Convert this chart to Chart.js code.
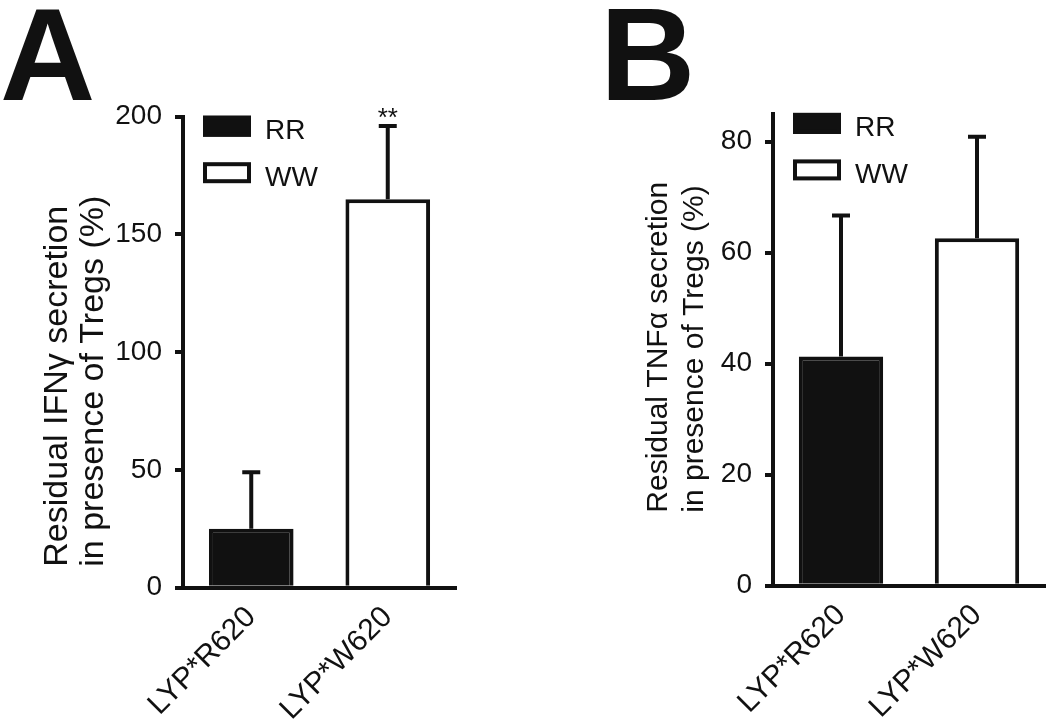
<!DOCTYPE html>
<html>
<head>
<meta charset="utf-8">
<script src="https://cdn.jsdelivr.net/npm/chart.js@4.4.1/dist/chart.umd.min.js"></script>
<style>
    html, body { margin: 0; padding: 0; background: #fff; }
    body { width: 1050px; height: 719px; position: relative; overflow: hidden; }
    canvas { position: absolute; top: 0; }
    #chartA { left: 0; }
    #chartB { left: 525px; }
</style>
</head>
<body>
<canvas id="chartA" width="525" height="719"></canvas>
<canvas id="chartB" width="525" height="719"></canvas>
<script>
const categories  = ['LYP*R620', 'LYP*W620'];
const seriesNames = ['RR', 'WW'];
const seriesFill  = ['#111111', '#ffffff'];

// panel A - IFNγ
const ifngMean  = [25, 165];
const ifngErr   = [24, 31];
const ifngStars = ['', '**'];
const ifngTicks = [0, 50, 100, 150, 200];
const ifngTitle = ['Residual IFNγ secretion', 'in presence of Tregs (%)'];

// panel B - TNFα
const tnfMean  = [41.3, 62.6];
const tnfErr   = [25.4, 18.3];
const tnfStars = ['', ''];
const tnfTicks = [0, 20, 40, 60, 80];
const tnfTitle = ['Residual TNFα secretion', 'in presence of Tregs (%)'];

const INK  = '#111';
const TEXT = '#111';
const FONT = "'Liberation Sans', Arial, Helvetica, sans-serif";

const errorBars = {
    id: 'errorBars',
    afterDatasetsDraw(chart) {
        const { ctx, scales: { y } } = chart;
        ctx.save();
        ctx.strokeStyle = INK;
        ctx.lineWidth = 4;
        chart.data.datasets.forEach((ds, i) => {
            chart.getDatasetMeta(i).data.forEach((bar, j) => {
                if (ds.data[j] == null) return;
                const base = y.getPixelForValue(ds.data[j]);
                const top  = y.getPixelForValue(ds.data[j] + ds.errors[j]);
                ctx.beginPath();
                ctx.moveTo(bar.x, base); ctx.lineTo(bar.x, top);
                ctx.moveTo(bar.x - 9, top); ctx.lineTo(bar.x + 9, top);
                ctx.stroke();
                if (ds.stars[j]) {
                    ctx.fillStyle = TEXT;
                    ctx.font = `26px ${FONT}`;
                    ctx.textAlign = 'center';
                    ctx.textBaseline = 'alphabetic';
                    ctx.fillText(ds.stars[j], bar.x, top);
                }
            });
        });
        ctx.restore();
    }
};

const boxLegend = {
    id: 'boxLegend',
    afterDraw(chart) {
        const { ctx, chartArea } = chart;
        const x0 = chartArea.left + 20, y0 = chartArea.top - 1;
        ctx.save();
        chart.data.datasets.forEach((ds, i) => {
            const y = y0 + i * 46.5;
            ctx.fillStyle = ds.backgroundColor;
            ctx.fillRect(x0, y, 48, 21);
            ctx.strokeStyle = ds.borderColor;
            ctx.lineWidth = 4;
            ctx.strokeRect(x0 + 2, y + 2, 44, 17);
            ctx.fillStyle = TEXT;
            ctx.font = `28px ${FONT}`;
            ctx.textAlign = 'left';
            ctx.textBaseline = 'alphabetic';
            ctx.fillText(ds.label, x0 + 62, y + 23.5);
        });
        ctx.restore();
    }
};

const sideTitle = {
    id: 'sideTitle',
    afterDraw(chart, args, o) {
        const { ctx, chartArea } = chart;
        ctx.save();
        ctx.fillStyle = TEXT;
        ctx.font = `${o.size}px ${FONT}`;
        ctx.textAlign = 'left';
        ctx.textBaseline = 'alphabetic';
        o.lines.forEach((line, i) => {
            ctx.save();
            ctx.translate(chartArea.left - o.offsets[i], chartArea.bottom - o.bottom);
            ctx.rotate(-Math.PI / 2);
            ctx.fillText(line, 0, 0);
            ctx.restore();
        });
        ctx.restore();
    }
};

const panelLetter = {
    id: 'panelLetter',
    afterDraw(chart, args, o) {
        const { ctx } = chart;
        ctx.save();
        ctx.fillStyle = INK;
        ctx.font = `bold 132px ${FONT}`;
        ctx.textAlign = 'left';
        ctx.textBaseline = 'alphabetic';
        ctx.fillText(o.text, o.x, o.y);
        ctx.restore();
    }
};

function makePanel(id, letter, mean, err, stars, ticks, title, L) {
    const datasets = seriesNames.map((name, i) => ({
        label: name,
        data: categories.map((c, j) => j === i ? mean[j] : null),
        errors: err,
        stars: stars,
        backgroundColor: seriesFill[i],
        borderColor: INK,
        borderWidth: 4
    }));

    return new Chart(document.getElementById(id), {
        type: 'bar',
        data: { labels: categories, datasets },
        plugins: [errorBars, boxLegend, sideTitle, panelLetter],
        options: {
            responsive: false,
            animation: false,
            layout: { padding: { left: 0, top: L.top, right: L.right, bottom: 0 } },
            datasets: { bar: { skipNull: true, categoryPercentage: 1, barPercentage: 0.62 } },
            plugins: {
                legend: { display: false },
                tooltip: { enabled: false },
                sideTitle: { lines: title, size: L.titleSize, offsets: L.titleOffsets, bottom: L.titleBottom },
                panelLetter: { text: letter, x: L.letterX, y: 100 }
            },
            scales: {
                x: {
                    offset: true,
                    grid: { display: false, drawTicks: false },
                    border: { display: true, color: INK, width: 4 },
                    ticks: { color: TEXT, font: { family: FONT, size: 30 }, minRotation: 45, maxRotation: 45, padding: 12 },
                    afterFit: s => { s.height = L.xHeight; }
                },
                y: {
                    min: 0, max: L.max,
                    grid: { drawOnChartArea: false, drawTicks: true, tickLength: 8, lineWidth: 4, tickWidth: 4, color: INK },
                    border: { display: true, color: INK, width: 4 },
                    ticks: { color: TEXT, font: { family: FONT, size: 28 }, padding: 13 },
                    afterBuildTicks: s => { s.ticks = ticks.map(v => ({ value: v })); },
                    afterFit: s => { s.width = L.yWidth; }
                }
            }
        }
    });
}

makePanel('chartA', 'A', ifngMean, ifngErr, ifngStars, ifngTicks, ifngTitle, {
    top: 116.7, right: 69, yWidth: 183, xHeight: 131.3, max: 200,
    titleSize: 34, titleOffsets: [116, 80], titleBottom: 21, letterX: 0
});
makePanel('chartB', 'B', tnfMean, tnfErr, tnfStars, tnfTicks, tnfTitle, {
    top: 113.9, right: 5, yWidth: 248, xHeight: 133.3, max: 85,
    titleSize: 30, titleOffsets: [106, 70], titleBottom: 73, letterX: 75
});
</script>
</body>
</html>
